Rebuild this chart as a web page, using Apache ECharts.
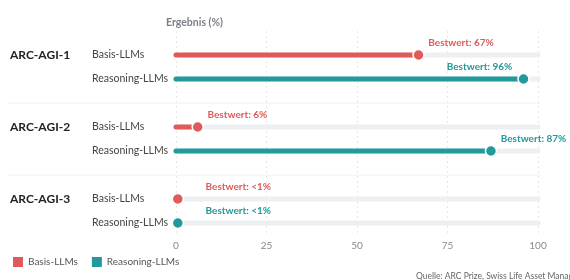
<!DOCTYPE html>
<html>
<head>
<meta charset="utf-8">
<script src="https://cdn.jsdelivr.net/npm/echarts@6/dist/echarts.min.js"></script>
<style>html,body{margin:0;padding:0;background:#fff}#c{width:570px;height:280px}</style>
</head>
<body>
<div id="c"></div>
<script>
const groups = ['ARC-AGI-1', 'ARC-AGI-2', 'ARC-AGI-3'];
const models = ['Basis-LLMs', 'Reasoning-LLMs'];
const basisValues = [67, 6, 0.5];
const reasoningValues = [96, 87, 0.5];
const basisLabels = ['67%', '6%', '<1%'];
const reasoningLabels = ['96%', '87%', '<1%'];
const xTicks = [0, 25, 50, 75, 100];
const labelPrefix = 'Bestwert: ';
const axisTitle = 'Ergebnis (%)';
const sourceText = 'Quelle: ARC Prize, Swiss Life Asset Managers';

const RED = '#e05a5a', TEAL = '#22999a', TRACK = '#edf0f3';
const FONT = 'Lato, "Liberation Sans", sans-serif';

// row index: group*3 + modelIndex (gap row every third)
const rowOf = (g, m) => g * 3 + m;
const trackData = [];
groups.forEach((g, gi) => models.forEach((m, mi) => trackData.push([100, rowOf(gi, mi)])));
const basisBars = basisValues.map((v, i) => [v, rowOf(i, 0)]);
const reasonBars = reasoningValues.map((v, i) => [v, rowOf(i, 1)]);

function labelPos(v) {
  if (v > 90) return { position: [-5, -6], align: 'right' };
  if (v < 2) return { position: [34, -6], align: 'left' };
  return { position: [16, -6], align: 'left' };
}
function dots(values, labels, m) {
  return values.map((v, i) => {
    const lp = labelPos(v);
    return {
      value: [v, rowOf(i, m)],
      label: { position: lp.position, align: lp.align, formatter: labelPrefix + labels[i] }
    };
  });
}
const basisDots = dots(basisValues, basisLabels, 0);
const reasonDots = dots(reasoningValues, reasoningLabels, 1);

function barRender(color) {
  return function (params, api) {
    const p0 = api.coord([0, api.value(1)]);
    const p1 = api.coord([api.value(0), api.value(1)]);
    return {
      type: 'line',
      shape: { x1: p0[0], y1: p0[1], x2: p1[0], y2: p1[1] },
      style: { stroke: color, lineWidth: 5, lineCap: 'round' }
    };
  };
}

const chart = echarts.init(document.getElementById('c'), null, { renderer: 'canvas' });
chart.setOption({
  animation: false,
  textStyle: { fontFamily: FONT },
  title: [
    { text: axisTitle, left: 161, top: 12, textStyle: { fontSize: 10.5, fontWeight: 'bold', color: '#7a7f87', fontFamily: FONT } },
    { text: sourceText, left: 411, top: 267, textStyle: { fontSize: 8.5, fontWeight: 'normal', color: '#666', fontFamily: FONT } }
  ],
  legend: {
    left: 8, top: 252, itemWidth: 10, itemHeight: 10, itemGap: 14, icon: 'rect',
    data: models,
    textStyle: { fontSize: 10, color: '#555', fontFamily: FONT }
  },
  grid: { left: 176, right: 32, top: 31, bottom: 45 },
  xAxis: {
    type: 'value', min: 0, max: 100, interval: 25,
    axisLine: { show: false }, axisTick: { show: false },
    axisLabel: { color: '#888', fontSize: 10, margin: 6, customValues: xTicks },
    splitLine: { show: true, lineStyle: { color: '#e6e6e6', type: [2, 3] } }
  },
  yAxis: {
    type: 'value', inverse: true, min: -1, max: 7.5, interval: 1,
    axisLine: { show: false }, axisTick: { show: false }, splitLine: { show: false },
    axisLabel: {
      align: 'left', margin: 166, showMaxLabel: false,
      formatter: function (v) {
        if (v < 0 || v !== Math.round(v)) return '';
        const g = Math.floor(v / 3), m = v % 3;
        if (m === 2 || g >= groups.length) return '';
        return (m === 0 ? '{g|' + groups[g] + '}' : '{g| }') + '{s|' + models[m] + '}';
      },
      rich: {
        g: { width: 82, fontSize: 12, fontWeight: 'bold', color: '#222', fontFamily: FONT, align: 'left' },
        s: { fontSize: 10.5, color: '#444', fontFamily: FONT, align: 'left' }
      }
    }
  },
  series: [
    { type: 'custom', name: 'track', silent: true, renderItem: barRender(TRACK), data: trackData, encode: { x: 0, y: 1 }, z: 1 },
    { type: 'custom', name: models[0], renderItem: barRender(RED), data: basisBars, encode: { x: 0, y: 1 }, itemStyle: { color: RED }, z: 2 },
    { type: 'custom', name: models[1], renderItem: barRender(TEAL), data: reasonBars, encode: { x: 0, y: 1 }, itemStyle: { color: TEAL }, z: 2 },
    {
      type: 'scatter', name: models[0], data: basisDots, symbolSize: 11, z: 3,
      itemStyle: { color: RED, borderColor: '#fff', borderWidth: 1.5, opacity: 1 },
      label: { show: true, color: RED, fontSize: 10, fontWeight: 'bold', verticalAlign: 'middle', fontFamily: FONT }
    },
    {
      type: 'scatter', name: models[1], data: reasonDots, symbolSize: 11, z: 3,
      itemStyle: { color: TEAL, borderColor: '#fff', borderWidth: 1.5, opacity: 1 },
      label: { show: true, color: TEAL, fontSize: 10, fontWeight: 'bold', verticalAlign: 'middle', fontFamily: FONT }
    }
  ]
});

// group separators at gap rows
const sepLines = [];
for (let g = 0; g < groups.length - 1; g++) {
  const y = chart.convertToPixel({ gridIndex: 0 }, [0, rowOf(g, 2)])[1];
  sepLines.push({ type: 'line', shape: { x1: 8, y1: y, x2: 540, y2: y }, style: { stroke: '#f0f0f0', lineWidth: 1 }, z: 0, silent: true });
}
chart.setOption({ graphic: sepLines });
</script>
</body>
</html>
